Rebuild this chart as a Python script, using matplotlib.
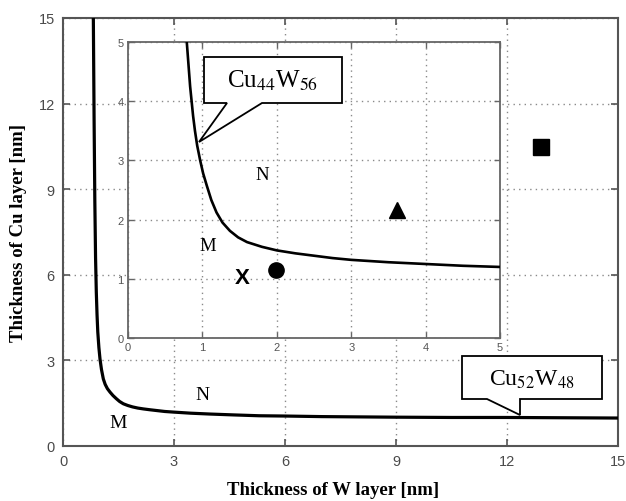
import matplotlib
matplotlib.use('Agg')
import matplotlib.pyplot as plt
from matplotlib.patches import Polygon

plt.rcParams['mathtext.fontset'] = 'stix'

# ==========================================
# DATA
# ==========================================
# main boundary curve, Cu52W48 (W thickness vs Cu thickness, nm)
main_w = [0.82, 0.84, 0.86, 0.88, 0.90, 0.92, 0.94, 0.97, 1.00, 1.04, 1.09, 1.14,
          1.20, 1.27, 1.35, 1.44, 1.53, 1.63, 1.75, 1.88, 2.02, 2.17, 2.35, 2.55,
          2.75, 2.97, 3.45, 3.97, 4.6, 5.3, 6.0, 7.0, 8.0, 9.0, 10.5, 12.0, 13.5, 15.0]
main_cu = [15.0, 11.5, 8.6, 6.6, 5.4, 4.6, 4.0, 3.45, 3.05, 2.68, 2.35, 2.16,
           2.01, 1.89, 1.77, 1.66, 1.56, 1.48, 1.42, 1.37, 1.33, 1.30, 1.27, 1.24,
           1.21, 1.19, 1.15, 1.12, 1.09, 1.06, 1.05, 1.03, 1.02, 1.01, 1.0, 1.0, 0.99, 0.98]

# inset boundary curve, Cu44W56
inset_w = [0.79, 0.805, 0.82, 0.835, 0.855, 0.875, 0.90, 0.93, 0.97, 1.01, 1.06,
           1.12, 1.19, 1.27, 1.37, 1.48, 1.60, 1.80, 2.0, 2.25, 2.5, 2.75, 3.0,
           3.5, 4.0, 4.5, 5.0]
inset_cu = [5.0, 4.75, 4.5, 4.25, 4.0, 3.75, 3.5, 3.25, 3.0, 2.78, 2.57,
            2.33, 2.12, 1.95, 1.81, 1.70, 1.62, 1.54, 1.48, 1.43, 1.39, 1.35, 1.32,
            1.28, 1.25, 1.22, 1.20]

main_ticks = [0, 3, 6, 9, 12, 15]
inset_ticks = [0, 1, 2, 3, 4, 5]

# sample points
x_pt = (1.53, 1.03)         # inset, letter X
circle_pt = (1.985, 1.155)  # inset
triangle_pt = (3.61, 2.16)  # inset
square_pt = (12.93, 10.48)  # main axes

# region labels
main_regions = [('N', 3.77, 1.82), ('M', 1.49, 0.82)]
inset_regions = [('N', 1.81, 2.77), ('M', 1.07, 1.57)]

W, H = 626, 502
fig = plt.figure(figsize=(W / 100, H / 100), dpi=100)

def px_rect(left, top, right, bottom):
    return [left / W, 1 - bottom / H, (right - left) / W, (bottom - top) / H]

grid_kw = dict(color='#8a8a8a', linestyle=(0, (1, 3)), linewidth=1.0)
serif = ['Liberation Serif', 'DejaVu Serif']
sans = ['Liberation Sans', 'DejaVu Sans']

# ---- main axes ----
ax = fig.add_axes(px_rect(63, 19, 618, 447))
ax.plot(main_w, main_cu, color='black', linewidth=2.3, solid_joinstyle='round', zorder=3)
ax.plot([square_pt[0]], [square_pt[1]], marker='s', markersize=11, color='black',
        linestyle='none', zorder=4)
for txt, xx, yy in main_regions:
    ax.text(xx, yy, txt, fontsize=14, family=serif, ha='center', va='center')
ax.set_xlim(0, 15)
ax.set_ylim(0, 15)
ax.set_xticks(main_ticks)
ax.set_yticks(main_ticks)
ax.grid(True, **grid_kw)
ax.tick_params(direction='in', top=True, right=True, length=5, width=1.2,
               color='#555555', labelsize=10.5, labelcolor='#4a4a4a', pad=6)
for lab in ax.get_xticklabels() + ax.get_yticklabels():
    lab.set_family(sans)
for sp in ax.spines.values():
    sp.set_color('#555555')
    sp.set_linewidth(1.5)

fig.text(333 / W, 1 - 491 / H, 'Thickness of W layer [nm]', fontsize=13.5,
         fontweight='bold', family=serif, ha='center', va='center')
fig.text(19 / W, 1 - 233 / H, 'Thickness of Cu layer [nm]', fontsize=13.5,
         fontweight='bold', family=serif, ha='center', va='center', rotation=90)

# ---- inset axes ----
ins = fig.add_axes(px_rect(128, 43, 500, 339))
ins.set_facecolor('white')
ins.plot(inset_w, inset_cu, color='black', linewidth=1.9, solid_joinstyle='round', zorder=3)
ins.plot([circle_pt[0]], [circle_pt[1]], marker='o', markersize=11, color='black',
         linestyle='none', zorder=4)
ins.plot([triangle_pt[0]], [triangle_pt[1]], marker='^', markersize=11, color='black',
         linestyle='none', zorder=4)
ins.text(x_pt[0], x_pt[1], 'X', fontsize=16, fontweight='bold', family=sans,
         ha='center', va='center', zorder=4)
for txt, xx, yy in inset_regions:
    ins.text(xx, yy, txt, fontsize=13.5, family=serif, ha='center', va='center')
ins.set_xlim(0, 5)
ins.set_ylim(0, 5)
ins.set_xticks(inset_ticks)
ins.set_yticks(inset_ticks)
ins.grid(True, **grid_kw)
ins.tick_params(direction='in', top=True, right=True, length=4, width=1.0,
                color='#666666', labelsize=8, labelcolor='#555555', pad=3)
for lab in ins.get_xticklabels() + ins.get_yticklabels():
    lab.set_family(sans)
for sp in ins.spines.values():
    sp.set_color('#666666')
    sp.set_linewidth(1.3)

# ---- callouts, drawn in pixel space on an overlay ----
ov = fig.add_axes([0, 0, 1, 1], zorder=10)
ov.set_xlim(0, W)
ov.set_ylim(H, 0)
ov.axis('off')
ov.patch.set_alpha(0)

call1 = [(204, 58), (342, 58), (342, 104), (262, 104), (199, 143), (227, 104), (204, 104)]
call2 = [(462, 357), (602, 357), (602, 400), (520, 400), (520, 416), (487, 400), (462, 400)]
for verts in (call1, call2):
    ov.add_patch(Polygon(verts, closed=True, facecolor='white', edgecolor='black',
                         linewidth=1.3, joinstyle='miter'))
ov.text(273, 81, r'Cu$_{44}$W$_{56}$', fontsize=18, family=serif, ha='center', va='center')
ov.text(532, 380, r'Cu$_{52}$W$_{48}$', fontsize=17, family=serif, ha='center', va='center')

fig.savefig('out.png', dpi=100)
